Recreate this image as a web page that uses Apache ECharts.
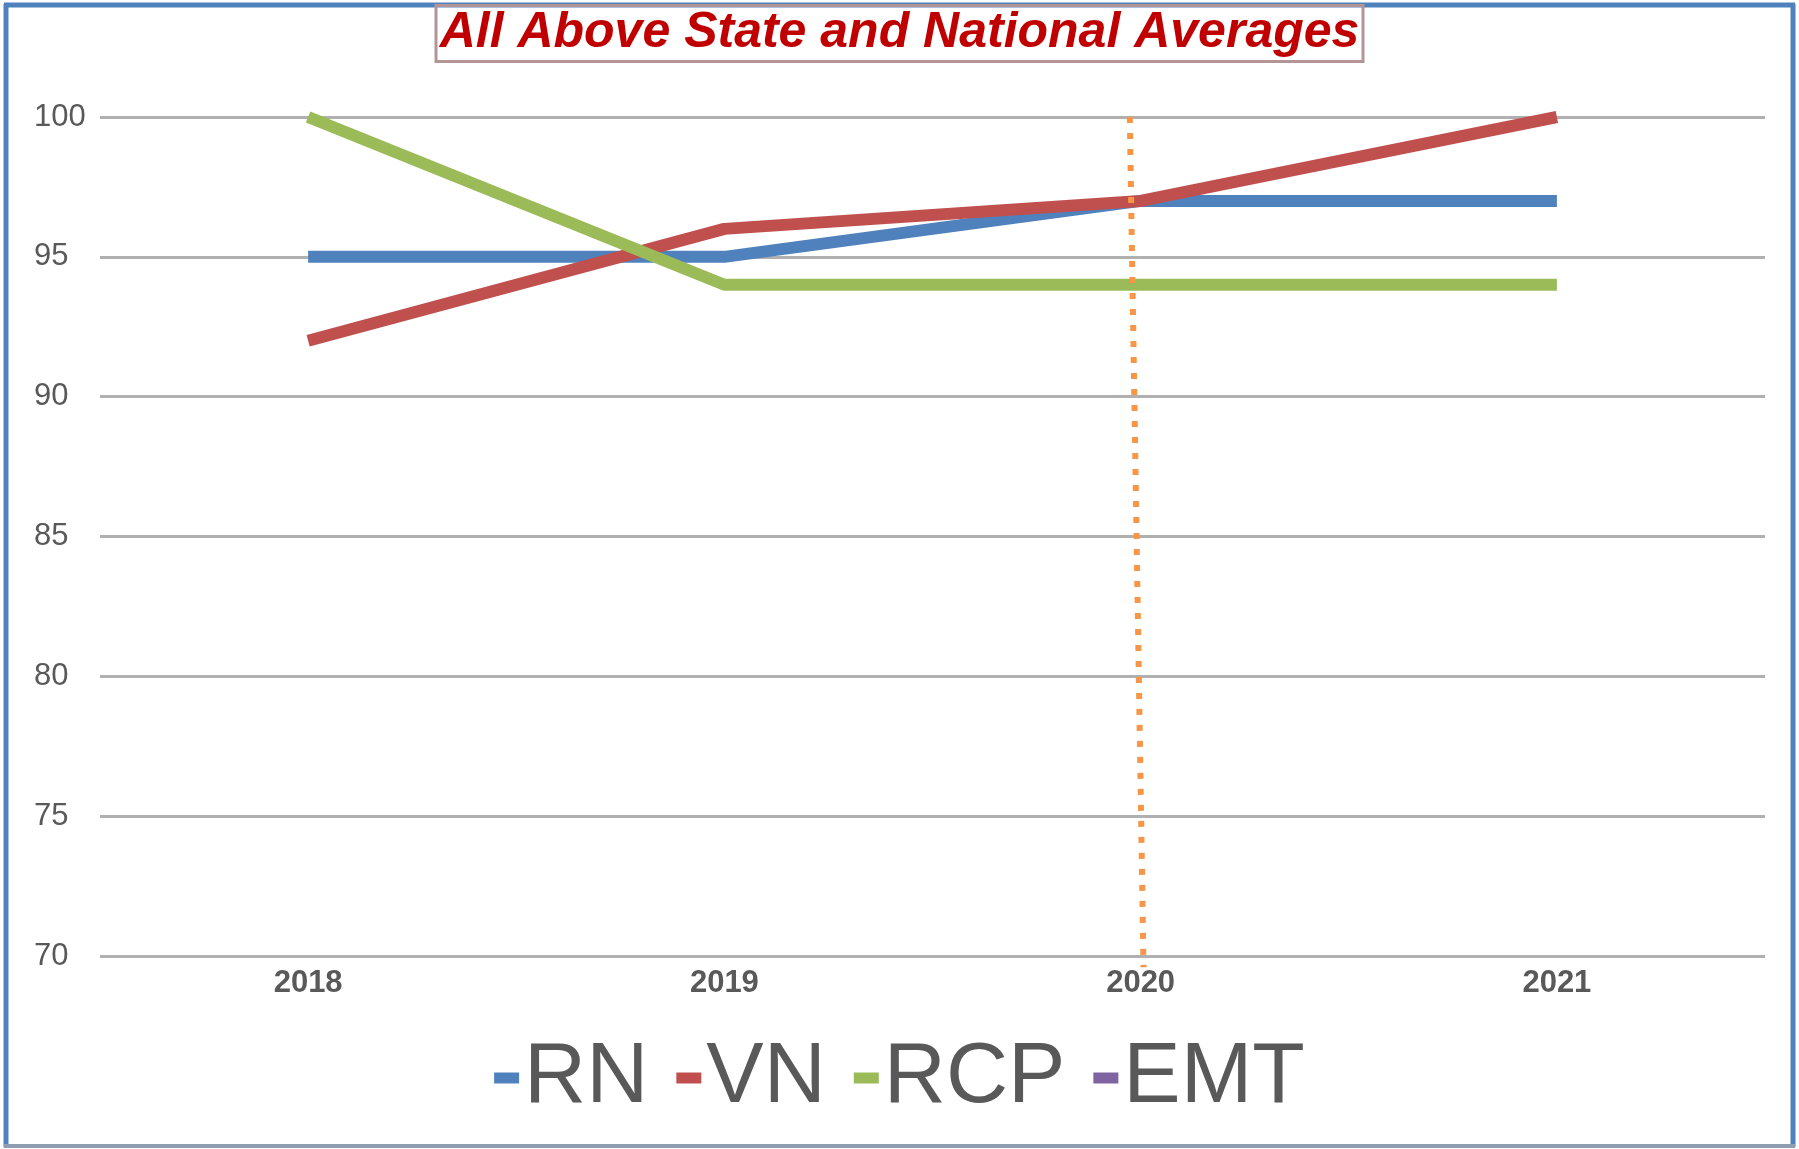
<!DOCTYPE html>
<html>
<head>
<meta charset="utf-8">
<script src="https://cdn.jsdelivr.net/npm/echarts@6/dist/echarts.min.js"></script>
<style>
    html, body { margin: 0; padding: 0; background: #fff; }
    #chart { width: 1799px; height: 1149px; }
</style>
</head>
<body>
<div id="chart"></div>
<script>
const years = ['2018', '2019', '2020', '2021'];
const rn = [95, 95, 97, 97];
const vn = [92, 96, 97, 100];
const rcp = [100, 94, 94, 94];
const emt = [];
// dotted marker near 2020 (x as category index, y as value)
const marker2020 = [[1.974, 100], [2.007, 69.6]];

const FONT = '"Liberation Sans", Arial, sans-serif';

const chart = echarts.init(document.getElementById('chart'));

function lineSeries(name, color, data) {
    return {
        name: name,
        type: 'line',
        data: data,
        symbol: 'none',
        color: color,
        lineStyle: { width: 12, color: color, cap: 'butt' },
        animation: false
    };
}

chart.setOption({
    animation: false,
    title: {
        text: 'All Above State and National Averages',
        left: 'center',
        top: 5,
        padding: [3, 4, 4, 4],
        borderColor: '#b39598',
        borderWidth: 3,
        textStyle: {
            color: '#c00000',
            fontSize: 50,
            fontStyle: 'italic',
            fontWeight: 'bold',
            fontFamily: FONT
        }
    },
    legend: {
        data: ['RN', 'VN', 'RCP', 'EMT'],
        left: 'center',
        top: 1030,
        icon: 'rect',
        itemWidth: 25,
        itemHeight: 11,
        itemGap: 28,
        textStyle: {
            color: '#595959',
            fontSize: 86,
            fontFamily: FONT
        }
    },
    grid: {
        left: 100,
        right: 34,
        top: 117,
        bottom: 193
    },
    xAxis: [{
        type: 'category',
        data: years,
        boundaryGap: true,
        axisLine: { show: false },
        axisTick: { show: false },
        axisLabel: {
            color: '#595959',
            fontSize: 31,
            fontWeight: 'bold',
            fontFamily: FONT,
            margin: 12
        }
    }, {
        type: 'value',
        min: -0.5,
        max: 3.5,
        show: false
    }],
    yAxis: {
        type: 'value',
        min: 70,
        max: 100,
        interval: 5,
        axisLine: { show: false },
        axisTick: { show: false },
        axisLabel: {
            color: '#595959',
            fontSize: 31,
            fontFamily: FONT,
            align: 'left',
            margin: 66
        },
        splitLine: { lineStyle: { color: '#b0b0b0', width: 3 } }
    },
    series: [
        lineSeries('RN', '#4f81bd', rn),
        lineSeries('VN', '#c0504d', vn),
        lineSeries('RCP', '#9bbb59', rcp),
        lineSeries('EMT', '#8064a2', emt),
        {
            name: 'marker',
            type: 'line',
            xAxisIndex: 1,
            data: marker2020,
            symbol: 'none',
            silent: true,
            clip: false,
            z: 5,
            lineStyle: { color: '#f79646', width: 6, type: [6, 10], cap: 'butt' }
        }
    ],
    graphic: [
        { type: 'line', shape: { x1: 6, y1: 4, x2: 6, y2: 1147 }, style: { stroke: '#4f81bd', lineWidth: 5 }, silent: true },
        { type: 'line', shape: { x1: 1793, y1: 4, x2: 1793, y2: 1147 }, style: { stroke: '#4f81bd', lineWidth: 5 }, silent: true },
        { type: 'line', shape: { x1: 4, y1: 5, x2: 1795, y2: 5 }, style: { stroke: '#4f81bd', lineWidth: 5 }, silent: true },
        { type: 'line', shape: { x1: 4, y1: 1146, x2: 1795, y2: 1146 }, style: { stroke: '#8e9db2', lineWidth: 4 }, silent: true }
    ]
});
</script>
</body>
</html>
